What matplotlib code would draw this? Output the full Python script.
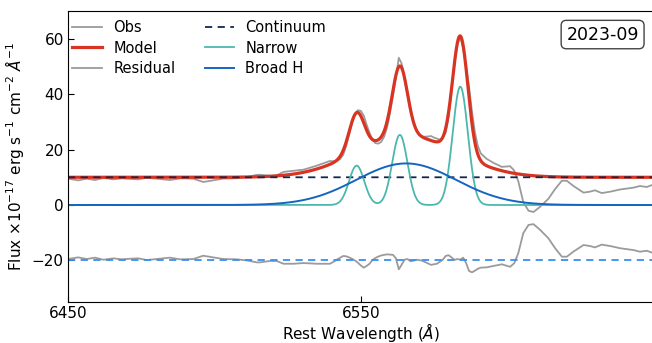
import numpy as np
import matplotlib
matplotlib.use("Agg")
import matplotlib.pyplot as plt

# ---------------- data ----------------
continuum_level = 10.0
# narrow lines: [NII]6548, Halpha, [NII]6583
narrow_centers = [6548.6, 6563.35, 6584.0]
narrow_amps = [14.2, 25.3, 42.7]
narrow_sigmas = [2.6, 2.6, 2.6]
# broad Halpha
broad_center = 6565.5
broad_amp = 15.0
broad_sigma = 17.0

# residual (model - obs) (plotted at offset -20)
resid_wave = [6450.0, 6453.5, 6456.4, 6459.2, 6462.1, 6465.5, 6468.3, 6471.2, 6474.0, 6476.9,
              6480.3, 6484.8, 6488.3, 6492.8, 6496.2, 6499.6, 6503.1, 6507.6, 6511.1, 6514.5,
              6515.6, 6519.0, 6521.3, 6523.6, 6527.0, 6530.4, 6535.0, 6539.5,
              6540, 6541, 6542, 6543, 6544, 6545, 6546, 6547, 6548, 6549, 6550, 6551, 6552,
              6553, 6554, 6555, 6556, 6557, 6558, 6559, 6560, 6561, 6562, 6563, 6564, 6565,
              6566, 6567, 6568, 6569, 6570, 6571, 6572, 6573, 6574, 6575, 6576, 6577, 6578,
              6579, 6580, 6581, 6582, 6583, 6584, 6585, 6586, 6587, 6588, 6589, 6590, 6591,
              6593.0, 6595.3, 6598.2, 6601.0, 6602.4, 6603.8, 6605.5, 6607.3, 6609.0, 6611.3,
              6614.1, 6616.4, 6618.7, 6620.4, 6622.6, 6626.1, 6628.3, 6630.0, 6632.3, 6635.2,
              6638.6, 6643.1, 6645.4, 6647.7, 6649.5]
resid_vals = [0.5, 1.1, 0.5, 1.0, 0.25, 0.75, 0.4, 0.6, 0.75, 0.15,
              0.5, 1.0, 0.4, 0.5, 1.7, 1.1, 0.5, 0.4, 0.0, -0.7,
              -0.7, -0.2, -0.2, -1.2, -1.2, -0.95, -1.2, -1.2,
              -0.9, -0.3, 0.4, 1.0, 1.6, 1.5, 1.1, 0.6, 0.0, -0.8, -1.8, -2.6, -2.0,
              -1.2, 0.1, 0.9, 1.4, 1.8, 2.0, 2.2, 2.1, 2.0, 0.8, -3.2, -1.5, 0.3,
              0.5, -0.3, -0.1, 0.25, 0.1, -0.1, -0.6, -1.1, -1.6, -1.4, -1.2, -0.5, 0.2,
              1.6, 1.9, 1.1, 0.2, 0.5, 0.3, 1.0, -1.0, -3.8, -4.3, -3.7, -3.0, -2.6,
              -2.5, -2.0, -1.4, -2.3, -1.05, 2.55, 9.8, 12.8, 13.1, 11.0,
              8.0, 4.4, 1.35, 1.35, 3.15, 5.56, 5.2, 4.7, 5.7, 5.2,
              4.4, 3.75, 3.15, 3.5, 2.8]
resid_offset = -20.0

xticks = [6450, 6550]
yticks = [-20, 0, 20, 40, 60]
epoch_label = "2023-09"


def gauss(w, a, c, s):
    return a * np.exp(-0.5 * ((w - c) / s) ** 2)


def narrow_comp(w):
    return sum(gauss(w, a, c, s) for a, c, s in zip(narrow_amps, narrow_centers, narrow_sigmas))


def broad_comp(w):
    return gauss(w, broad_amp, broad_center, broad_sigma)


def model_flux(w):
    return continuum_level + narrow_comp(w) + broad_comp(w)


wave = np.linspace(6450, 6650, 1201)
rw = np.array(resid_wave)
rv = np.array(resid_vals)
obs = model_flux(rw) - rv

# ---------------- figure ----------------
fig = plt.figure(figsize=(6.52, 3.43), dpi=100)
ax = fig.add_axes([68 / 652, 41 / 343, 585.5 / 652, 291 / 343])

c_obs = "#9b9b9b"
c_model = "#d93422"
c_cont = "#14264f"
c_narrow = "#4cb8ad"
c_broad = "#1565c0"
c_zero = "#3a8ff0"

ax.plot(rw, obs, color=c_obs, lw=1.3, label="Obs")
ax.plot(wave, model_flux(wave), color=c_model, lw=2.3, label="Model")
ax.plot(rw, rv + resid_offset, color=c_obs, lw=1.3, label="Residual")
ax.plot(wave, np.full_like(wave, continuum_level), color=c_cont, lw=1.3, ls=(0, (4, 3)),
        label="Continuum")
ax.plot(wave, narrow_comp(wave), color=c_narrow, lw=1.3, label="Narrow")
ax.plot(wave, broad_comp(wave), color=c_broad, lw=1.4, label="Broad H")
ax.axhline(resid_offset, color=c_zero, lw=1.3, ls=(0, (4, 3)))

ax.set_xlim(6450, 6650)
ax.set_ylim(-35, 70)
ax.set_xticks(xticks)
ax.set_yticks(yticks)
ax.tick_params(direction="in", labelsize=11, length=4, pad=3)
ax.spines["right"].set_visible(False)

ax.set_xlabel(r"Rest Wavelength ($\AA$)", fontsize=11, labelpad=0)
ax.set_ylabel(r"Flux $\times 10^{-17}$ erg s$^{-1}$ cm$^{-2}$ $\AA^{-1}$", fontsize=11)

ax.legend(ncol=2, loc="upper left", bbox_to_anchor=(0.0, 0.985), frameon=False,
          fontsize=10.5, borderaxespad=0.0, borderpad=0.3, columnspacing=2.0,
          handlelength=2.0, labelspacing=0.4)

ax.text(0.975, 0.95, epoch_label, transform=ax.transAxes, ha="right", va="top",
        fontsize=12.5,
        bbox=dict(boxstyle="round,pad=0.3", facecolor="white", edgecolor="#444444", lw=1.0))

fig.savefig("out.png", dpi=100)
